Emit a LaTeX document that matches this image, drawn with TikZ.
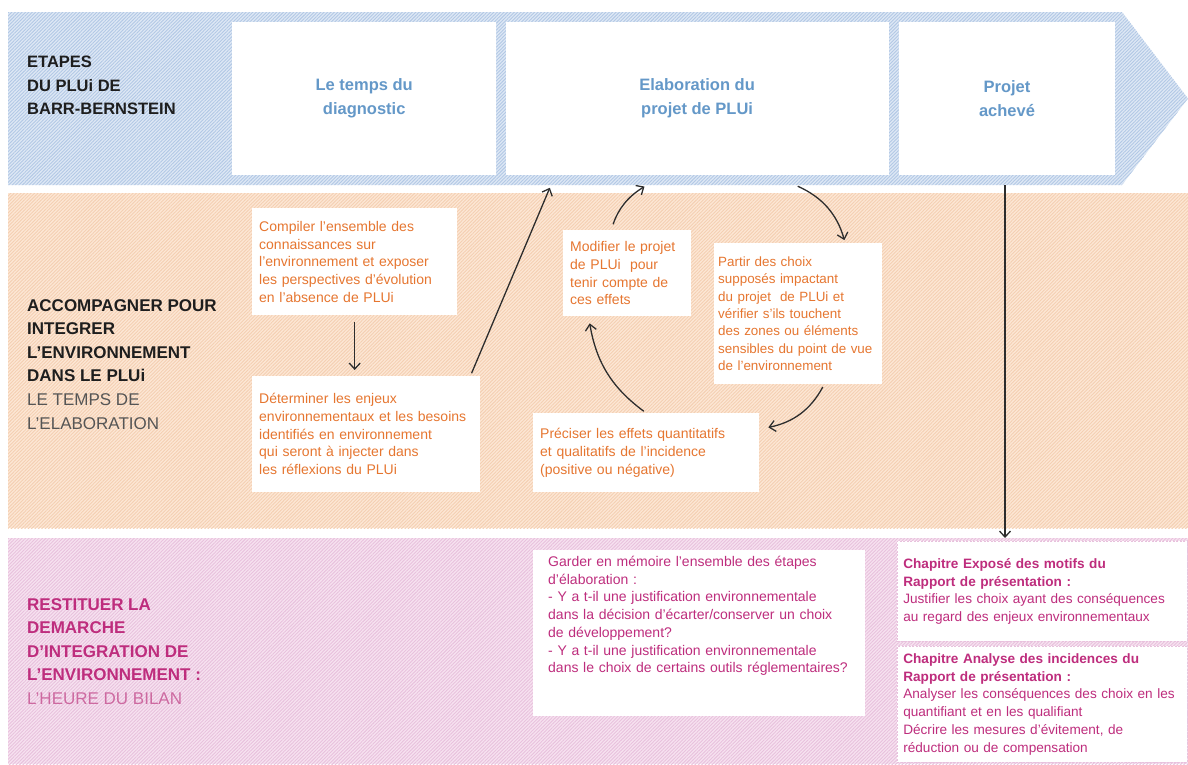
\documentclass[tikz,border=0pt]{standalone}
\usepackage{fontspec}
\setmainfont{Liberation Sans}
\usetikzlibrary{positioning, arrows.meta, patterns.meta}

\definecolor{bleufond}{RGB}{222,232,245}
\definecolor{bleuraie}{RGB}{178,200,229}
\definecolor{bleutxt}{RGB}{100,152,200}
\definecolor{orangefond}{RGB}{253,231,213}
\definecolor{orangeraie}{RGB}{244,207,178}
\definecolor{orangetxt}{RGB}{230,118,48}
\definecolor{rosefond}{RGB}{247,226,240}
\definecolor{roseraie}{RGB}{232,193,221}
\definecolor{magentatxt}{RGB}{190,45,125}
\definecolor{magentaclair}{RGB}{205,105,160}
\definecolor{grisfonce}{RGB}{85,85,85}
\definecolor{noir}{RGB}{30,30,30}
\definecolor{trait}{RGB}{45,45,45}

\tikzset{
>={Straight Barb[length=6pt,width=11pt]}, % pointes ouvertes
fleche/.style={->, draw=trait, line width=1.3pt, shorten >=3pt, shorten <=3pt}, % les connecteurs
bande/.style={preaction={fill=#1fond}, pattern={Lines[angle=45,distance=2.4pt,line width=0.9pt]}, pattern color=#1raie}, % fonds hachures
etape/.style={fill=white, anchor=north west, minimum height=153pt, inner sep=0pt, align=center, text=bleutxt, font=\fontsize{16.5}{24}\selectfont\bfseries}, % cases du haut
titre/.style={anchor=north west, align=left, inner sep=0pt, text=noir, font=\fontsize{17}{23.6}\selectfont}, % titres de gauche
boite/.style={fill=white, anchor=north west, align=left, inner xsep=7pt, inner ysep=0pt, text=orangetxt, font=\fontsize{14}{17.7}\selectfont}, % boites blanches
chapitre/.style={boite, text=magentatxt, draw=roseraie, dash pattern=on 2pt off 1.5pt, line width=0.6pt, inner xsep=6pt, text width=278pt, font=\fontsize{13.6}{17.7}\selectfont}, % chapitres du rapport
}

\begin{document}
\begin{tikzpicture}[x=1pt, y=-1pt]
    \useasboundingbox (0,0) rectangle (1188,764);
    % les trois bandes
    \path[bande=bleu] (8,12) -- (1122,12) -- (1188,98.5) -- (1122,185) -- (8,185) -- cycle;
    \path[bande=orange] (8,193) rectangle (1188,528);
    \path[bande=rose] (8,538) rectangle (1188,764);

    % etapes du PLUi
    \node[titre, font=\fontsize{16.5}{23.5}\selectfont\bfseries] (etapes) at (27,56) {ETAPES\\DU PLUi DE\\BARR-BERNSTEIN};
    \node[etape, minimum width=264pt] (diagnostic) at (232,22) {Le temps du\\diagnostic};
    \node[etape, minimum width=383pt, right=9pt of diagnostic] (elaboration) {Elaboration du\\projet de PLUi};
    \node[etape, minimum width=216pt, right=10pt of elaboration] (projet) {Projet\\achevé};

    % accompagner
    \node[titre] (accompagner) at (27,299) {\textbf{ACCOMPAGNER POUR}\\\textbf{INTEGRER}\\\textbf{L’ENVIRONNEMENT}\\\textbf{DANS LE PLUi}\\\textcolor{grisfonce}{LE TEMPS DE}\\\textcolor{grisfonce}{L’ELABORATION}};
    \node[boite, text width=191pt, minimum height=107pt] (compiler) at (252,208) {Compiler l’ensemble des\\connaissances sur\\l’environnement et exposer\\les perspectives d’évolution\\en l’absence de PLUi};
    \node[boite, text width=214pt, minimum height=116pt] (determiner) at (252,376) {Déterminer les enjeux\\environnementaux et les besoins\\identifiés en environnement\\qui seront à injecter dans\\les réflexions du PLUi};
    \node[boite, text width=114pt, minimum height=86pt] (modifier) at (563,230) {Modifier le projet\\de PLUi\ \ pour\\tenir compte de\\ces effets};
    \node[boite, text width=160pt, inner xsep=4pt, minimum height=141pt, font=\fontsize{13.4}{17.4}\selectfont] (partir) at (714,243) {Partir des choix\\supposés impactant\\du projet\ \ de PLUi et\\vérifier s’ils touchent\\des zones ou éléments\\sensibles du point de vue\\de l’environnement};
    \node[boite, text width=212pt, minimum height=79pt] (preciser) at (533,413) {Préciser les effets quantitatifs\\et qualitatifs de l’incidence\\(positive ou négative)};

    % restituer
    \node[titre] (restituer) at (27,598) {\textcolor{magentatxt}{\textbf{RESTITUER LA}}\\\textcolor{magentatxt}{\textbf{DEMARCHE}}\\\textcolor{magentatxt}{\textbf{D’INTEGRATION DE}}\\\textcolor{magentatxt}{\textbf{L’ENVIRONNEMENT :}}\\\textcolor{magentaclair}{L’HEURE DU BILAN}};
    \node[boite, text=magentatxt, text width=302pt, inner xsep=15pt, inner ysep=6pt, text depth=143pt] (garder) at (533,550) {Garder en mémoire l'ensemble des étapes\\d'élaboration :\\- Y a t-il une justification environnementale\\dans la décision d'écarter/conserver un choix\\de développement?\\- Y a t-il une justification environnementale\\dans le choix de certains outils réglementaires?};
    \node[chapitre, minimum height=100pt] (motifs) at (897,541) {\textbf{Chapitre Exposé des motifs du}\\\textbf{Rapport de présentation :}\\Justifier les choix ayant des conséquences\\au regard des enjeux environnementaux};
    \node[chapitre, minimum height=116pt] (incidences) at (897,646) {\textbf{Chapitre Analyse des incidences du}\\\textbf{Rapport de présentation :}\\Analyser les conséquences des choix en les\\quantifiant et en les qualifiant\\Décrire les mesures d’évitement, de\\réduction ou de compensation};

    % bouts libres sur le bas de la bande bleue
    \coordinate (pointeB) at (551,185);
    \coordinate (pointeC) at (647,185);
    \coordinate (departD) at (795,185);
    \coordinate (basprojet) at (1005,185);

    \draw[fleche, shorten <=7pt, shorten >=6pt] (compiler) -- (compiler |- determiner.north);
    \draw[fleche] ([xshift=-10pt]determiner.north east) -- (pointeB);
    \draw[fleche, shorten <=6pt] ([xshift=-16pt]modifier.north) to[bend left=20] (pointeC);
    \draw[fleche] (departD) to[bend left=25] ([xshift=47pt]partir.north);
    \draw[fleche] ([xshift=26pt]partir.south) to[bend left=25] ([xshift=6pt,yshift=-15pt]preciser.north east);
    \draw[fleche] (preciser.north) to[bend left=22] ([xshift=-38pt,yshift=-4pt]modifier.south);
    \draw[fleche, shorten <=0pt] (basprojet) -- (basprojet |- motifs.north);
  \end{tikzpicture}
\end{document}
